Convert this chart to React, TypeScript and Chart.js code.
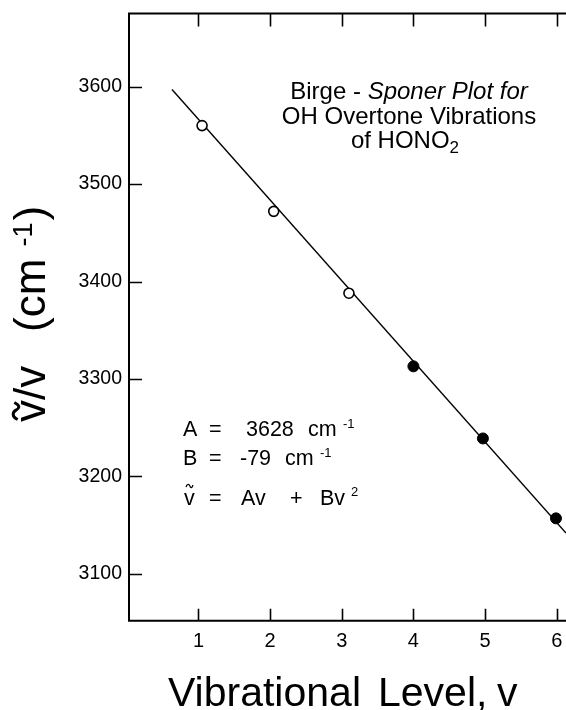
import React, { useEffect, useRef } from "react";
import { Chart, registerables } from "chart.js";

Chart.register(...registerables);

// ---- data ----
const xTickValues = [1, 2, 3, 4, 5, 6];
const yTickValues = [3100, 3200, 3300, 3400, 3500, 3600];
const openLevels = [1.05, 2.05, 3.1];
const openValues = [3560, 3472, 3388];
const filledLevels = [4.0, 4.97, 5.99];
const filledValues = [3313, 3239, 3157];
const fitLevels = [0.63, 6.13];
const fitValues = [3597, 3142];

const X_MIN = 0.03;
const X_MAX = 6.13;
const Y_MIN = 3052;
const Y_MAX = 3675;

const titleLine1a = "Birge - ";
const titleLine1b = "Sponer Plot for";
const titleLine2 = "OH Overtone Vibrations";
const titleLine3 = "of HONO";
const titleLine3Sub = "2";
const xTitleWords = ["Vibrational", "Level,", "v"];
const constA = "3628";
const constB = "-79";

const FONT = '"Liberation Sans", Arial, Helvetica, sans-serif';

function font(size: number, style = "") {
  return `${style} ${size}px ${FONT}`.trim();
}

function drawTilde(ctx: CanvasRenderingContext2D, cx: number, cy: number, w: number, h: number, lw: number) {
  ctx.save();
  ctx.beginPath();
  const x0 = cx - w / 2;
  ctx.moveTo(x0, cy + h / 3);
  ctx.bezierCurveTo(x0 + w * 0.2, cy - h, x0 + w * 0.45, cy - h * 0.6, x0 + w * 0.55, cy);
  ctx.bezierCurveTo(x0 + w * 0.65, cy + h * 0.6, x0 + w * 0.8, cy + h, x0 + w, cy - h / 3);
  ctx.lineWidth = lw;
  ctx.strokeStyle = "#000";
  ctx.stroke();
  ctx.restore();
}

const decorPlugin = {
  id: "decor",
  beforeDraw(chart: any) {
    const ctx = chart.ctx as CanvasRenderingContext2D;
    ctx.save();
    ctx.fillStyle = "#fff";
    ctx.fillRect(0, 0, chart.width, chart.height);
    ctx.restore();
  },
  afterDraw(chart: any) {
    const ctx = chart.ctx as CanvasRenderingContext2D;
    const { left, top, bottom } = chart.chartArea;
    const right = chart.width;
    const xs = chart.scales.x;
    const ys = chart.scales.y;
    ctx.save();
    ctx.strokeStyle = "#000";
    ctx.fillStyle = "#000";

    // frame: top, left, bottom
    ctx.lineWidth = 2;
    ctx.beginPath();
    ctx.moveTo(left, top);
    ctx.lineTo(right, top);
    ctx.moveTo(left, top - 1);
    ctx.lineTo(left, bottom + 1);
    ctx.moveTo(left, bottom);
    ctx.lineTo(right, bottom);
    ctx.stroke();

    // inward tick marks
    ctx.lineWidth = 1.6;
    ctx.beginPath();
    yTickValues.forEach((v) => {
      const y = Math.round(ys.getPixelForValue(v)) + 0.5;
      ctx.moveTo(left, y);
      ctx.lineTo(left + 13, y);
    });
    xTickValues.forEach((v) => {
      const x = Math.round(xs.getPixelForValue(v)) + 0.5;
      ctx.moveTo(x, bottom);
      ctx.lineTo(x, bottom - 12);
      ctx.moveTo(x, top);
      ctx.lineTo(x, top + 13);
    });
    ctx.stroke();

    ctx.textBaseline = "alphabetic";

    // title block
    const tf = 24;
    const cx = 409;
    ctx.font = font(tf);
    const wa = ctx.measureText(titleLine1a).width;
    ctx.font = font(tf, "italic");
    const wb = ctx.measureText(titleLine1b).width;
    let x = cx - (wa + wb) / 2;
    ctx.textAlign = "left";
    ctx.font = font(tf);
    ctx.fillText(titleLine1a, x, 99);
    ctx.font = font(tf, "italic");
    ctx.fillText(titleLine1b, x + wa, 99);

    ctx.font = font(tf);
    ctx.textAlign = "center";
    ctx.fillText(titleLine2, cx, 124);

    ctx.textAlign = "left";
    const w3 = ctx.measureText(titleLine3).width;
    ctx.font = font(17);
    const w3s = ctx.measureText(titleLine3Sub).width;
    x = cx - 4 - (w3 + w3s) / 2;
    ctx.font = font(tf);
    ctx.fillText(titleLine3, x, 148);
    ctx.font = font(17);
    ctx.fillText(titleLine3Sub, x + w3, 153);

    // constants block
    const fs = 21.5;
    const sup = 13;
    ctx.font = font(fs);
    ctx.fillText("A", 183, 436);
    ctx.fillText("=", 209, 436);
    ctx.fillText(constA, 246, 436);
    ctx.fillText("cm", 308, 436);
    ctx.font = font(sup);
    ctx.fillText("-1", 343, 428);

    ctx.font = font(fs);
    ctx.fillText("B", 183, 465);
    ctx.fillText("=", 209, 465);
    ctx.fillText(constB, 240, 465);
    ctx.fillText("cm", 285, 465);
    ctx.font = font(sup);
    ctx.fillText("-1", 320, 457);

    ctx.font = font(fs);
    ctx.fillText("v", 184, 505);
    drawTilde(ctx, 189.5, 486, 7, 3, 1.3);
    ctx.fillText("=", 209, 505);
    ctx.fillText("Av", 241, 505);
    ctx.fillText("+", 290, 505);
    ctx.fillText("Bv", 320, 505);
    ctx.font = font(sup);
    ctx.fillText("2", 351, 496);

    // x axis title
    ctx.font = font(41);
    ctx.fillText(xTitleWords[0], 168, 706);
    ctx.fillText(xTitleWords[1], 378, 706);
    ctx.fillText(xTitleWords[2], 497, 706);

    // y axis title (rotated)
    ctx.save();
    ctx.translate(45, 422);
    ctx.rotate(-Math.PI / 2);
    ctx.font = font(44);
    ctx.textAlign = "left";
    ctx.fillText("v", 0, 0);
    const vw = ctx.measureText("v").width;
    drawTilde(ctx, vw / 2, -29, 17, 5, 3);
    ctx.fillText("/v", vw, 0);
    let px = 90;
    ctx.fillText("(cm", px, 0);
    px += ctx.measureText("(cm ").width;
    ctx.font = font(27);
    ctx.fillText("-1", px, -13);
    px += ctx.measureText("-1").width + 2;
    ctx.font = font(44);
    ctx.fillText(")", px, 0);
    ctx.restore();

    ctx.restore();
  },
};

export default function App() {
  const canvasRef = useRef<HTMLCanvasElement | null>(null);

  useEffect(() => {
    if (!canvasRef.current) return;
    const openData = openLevels.map((v, i) => ({ x: v, y: openValues[i] }));
    const filledData = filledLevels.map((v, i) => ({ x: v, y: filledValues[i] }));
    const fitData = fitLevels.map((v, i) => ({ x: v, y: fitValues[i] }));

    const chart = new Chart(canvasRef.current, {
      type: "scatter",
      data: {
        datasets: [
          {
            label: "fit",
            data: fitData,
            showLine: true,
            borderColor: "#000",
            borderWidth: 1.4,
            pointRadius: 0,
            order: 2,
          },
          {
            label: "open",
            data: openData,
            pointRadius: 5,
            pointBackgroundColor: "#fff",
            pointBorderColor: "#000",
            pointBorderWidth: 1.6,
            order: 1,
          },
          {
            label: "filled",
            data: filledData,
            pointRadius: 5.5,
            pointBackgroundColor: "#000",
            pointBorderColor: "#000",
            pointBorderWidth: 1,
            order: 0,
          },
        ] as any,
      },
      options: {
        responsive: false,
        animation: false,
        events: [],
        layout: { autoPadding: false, padding: { top: 13.5, left: 0, right: 0, bottom: 0 } },
        plugins: {
          legend: { display: false },
          tooltip: { enabled: false },
          title: { display: false },
        },
        scales: {
          x: {
            type: "linear",
            min: X_MIN,
            max: X_MAX,
            afterBuildTicks: (s: any) => {
              s.ticks = xTickValues.map((v) => ({ value: v }));
            },
            afterFit: (s: any) => {
              s.height = 89.3;
              s.paddingLeft = 0;
              s.paddingRight = 0;
            },
            grid: { display: false, drawTicks: false },
            border: { display: false },
            ticks: {
              color: "#000",
              font: { family: FONT, size: 20, lineHeight: 2.05 },
              padding: 0,
              maxRotation: 0,
              autoSkip: false,
              callback: (v: any) => String(v),
            },
          },
          y: {
            type: "linear",
            min: Y_MIN,
            max: Y_MAX,
            afterBuildTicks: (s: any) => {
              s.ticks = yTickValues.map((v) => ({ value: v }));
            },
            afterFit: (s: any) => {
              s.width = 129;
              s.paddingTop = 0;
              s.paddingBottom = 0;
            },
            grid: { display: false, drawTicks: false },
            border: { display: false },
            ticks: {
              color: "#000",
              font: { family: FONT, size: 19.5 },
              padding: 7,
              autoSkip: false,
              callback: (v: any) => String(v),
            },
          },
        },
      },
      plugins: [decorPlugin],
    } as any);

    return () => chart.destroy();
  }, []);

  return (
    <div style={{ position: "absolute", left: 0, top: 0, width: 566, height: 710, background: "#fff" }}>
      <canvas ref={canvasRef} width={566} height={710} style={{ display: "block", width: 566, height: 710 }} />
    </div>
  );
}
